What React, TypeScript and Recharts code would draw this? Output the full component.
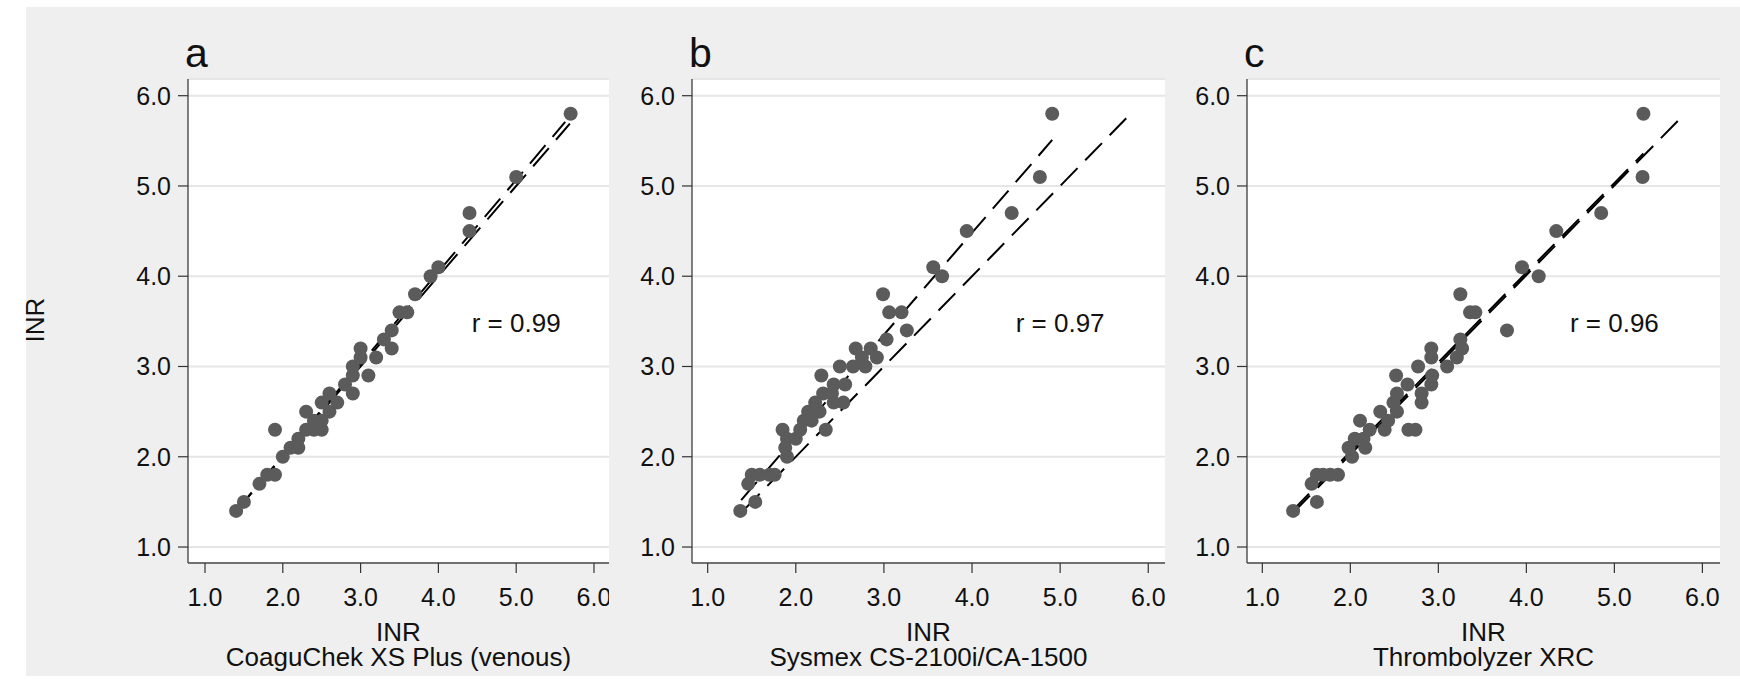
import React from "react";
import {
  ScatterChart,
  Scatter,
  XAxis,
  YAxis,
  CartesianGrid,
  ReferenceLine,
  ReferenceDot,
} from "recharts";

// INR pairs [device x, reference y]
const pointsA: [number, number][] = [
  [1.4, 1.4], [1.5, 1.5], [1.7, 1.7], [1.8, 1.8], [1.9, 1.8], [2.0, 2.0],
  [2.1, 2.1], [2.2, 2.1], [2.2, 2.2], [1.9, 2.3], [2.3, 2.3], [2.4, 2.3],
  [2.5, 2.3], [2.4, 2.4], [2.5, 2.4], [2.3, 2.5], [2.6, 2.5], [2.5, 2.6],
  [2.7, 2.6], [2.6, 2.7], [2.9, 2.7], [2.8, 2.8], [2.9, 2.9], [3.1, 2.9],
  [2.9, 3.0], [3.0, 3.1], [3.2, 3.1], [3.0, 3.2], [3.4, 3.2], [3.3, 3.3],
  [3.4, 3.4], [3.5, 3.6], [3.6, 3.6], [3.7, 3.8], [3.9, 4.0], [4.0, 4.1],
  [4.4, 4.5], [4.4, 4.7], [5.0, 5.1], [5.7, 5.8],
];

const pointsB: [number, number][] = [
  [1.37, 1.4], [1.54, 1.5], [1.46, 1.7], [1.5, 1.8], [1.59, 1.8], [1.7, 1.8],
  [1.76, 1.8], [1.9, 2.0], [1.88, 2.1], [1.9, 2.2], [2.0, 2.2], [1.85, 2.3],
  [2.05, 2.3], [2.34, 2.3], [2.09, 2.4], [2.18, 2.4], [2.14, 2.5], [2.27, 2.5],
  [2.22, 2.6], [2.43, 2.6], [2.54, 2.6], [2.31, 2.7], [2.41, 2.7], [2.43, 2.8],
  [2.56, 2.8], [2.29, 2.9], [2.5, 3.0], [2.65, 3.0], [2.79, 3.0], [2.75, 3.1],
  [2.92, 3.1], [2.68, 3.2], [2.85, 3.2], [3.03, 3.3], [3.26, 3.4], [3.06, 3.6],
  [3.2, 3.6], [2.99, 3.8], [3.66, 4.0], [3.56, 4.1], [3.94, 4.5], [4.45, 4.7],
  [4.77, 5.1], [4.91, 5.8],
];

const pointsC: [number, number][] = [
  [1.35, 1.4], [1.62, 1.5], [1.56, 1.7], [1.62, 1.8], [1.69, 1.8], [1.77, 1.8],
  [1.86, 1.8], [2.02, 2.0], [1.98, 2.1], [2.17, 2.1], [2.05, 2.2], [2.15, 2.2],
  [2.22, 2.3], [2.39, 2.3], [2.66, 2.3], [2.74, 2.3], [2.11, 2.4], [2.43, 2.4],
  [2.34, 2.5], [2.53, 2.5], [2.49, 2.6], [2.81, 2.6], [2.53, 2.7], [2.81, 2.7],
  [2.65, 2.8], [2.92, 2.8], [2.52, 2.9], [2.93, 2.9], [2.77, 3.0], [3.1, 3.0],
  [2.92, 3.1], [3.21, 3.1], [2.92, 3.2], [3.27, 3.2], [3.25, 3.3], [3.78, 3.4],
  [3.36, 3.6], [3.42, 3.6], [3.25, 3.8], [4.14, 4.0], [3.95, 4.1], [4.34, 4.5],
  [4.85, 4.7], [5.32, 5.1], [5.33, 5.8],
];

// dashed lines: line of identity and fitted line, as end points
const identityA: [number, number][] = [[1.4, 1.4], [5.69, 5.69]];
const fitA: [number, number][] = [[1.4, 1.4], [5.63, 5.71]];
const identityB: [number, number][] = [[1.4, 1.4], [5.75, 5.75]];
const fitB: [number, number][] = [[1.38, 1.52], [4.91, 5.51]];
const identityC: [number, number][] = [[1.35, 1.38], [5.75, 5.75]];
const fitC: [number, number][] = [[1.34, 1.4], [5.33, 5.36]];

const ticks = [1, 2, 3, 4, 5, 6];
const rValues = ["r = 0.99", "r = 0.97", "r = 0.96"];
const letters = ["a", "b", "c"];
const devices = ["CoaguChek XS Plus (venous)", "Sysmex CS-2100i/CA-1500", "Thrombolyzer XRC"];
const rLabelAt = { x: 5.0, y: 3.48 };

const FONT = '"Liberation Sans", Arial, Helvetica, sans-serif';
const Y_DOMAIN: [number, number] = [0.823, 6.185];
const PLOT_TOP = 79;
const PLOT_BOTTOM = 563;
const YAXIS_W = 90;
const XAXIS_H = 50;

const panels = [
  { data: pointsA, identity: identityA, fit: fitA, plotLeft: 188, plotRight: 609, xDomain: [0.7815, 6.193] },
  { data: pointsB, identity: identityB, fit: fitB, plotLeft: 692, plotRight: 1165, xDomain: [0.822, 6.19] },
  { data: pointsC, identity: identityC, fit: fitC, plotLeft: 1247, plotRight: 1720, xDomain: [0.826, 6.2] },
];

const fmt = (v: number) => v.toFixed(1);

const Dot = (props: any) => {
  if (props.cx == null || props.cy == null) return <g />;
  return <circle cx={props.cx} cy={props.cy} r={7} fill="#5b5b5b" />;
};

const seg = (pts: [number, number][]) => pts.map(([x, y]) => ({ x, y }));

function Panel({ idx }: { idx: number }) {
  const p = panels[idx];
  const left = p.plotLeft - YAXIS_W;
  const top = 40;
  const width = p.plotRight - left;
  const height = PLOT_BOTTOM - top + XAXIS_H;
  const data = p.data.map(([x, y]) => ({ x, y }));
  const tickStyle = { fontSize: 25, fill: "#111", fontFamily: FONT };

  return (
    <div style={{ position: "absolute", left, top }}>
      <ScatterChart
        width={width}
        height={height}
        margin={{ top: PLOT_TOP - top, right: 0, bottom: 0, left: 0 }}
      >
        <CartesianGrid vertical={false} stroke="#e6e6e6" strokeWidth={2} fill="#ffffff" />
        <XAxis
          type="number"
          dataKey="x"
          domain={p.xDomain as [number, number]}
          allowDataOverflow
          ticks={ticks}
          interval={0}
          tickFormatter={fmt}
          height={XAXIS_H}
          tickSize={10}
          tickMargin={15}
          axisLine={{ stroke: "#4a4a4a", strokeWidth: 1.6 }}
          tickLine={{ stroke: "#333", strokeWidth: 1.2 }}
          tick={tickStyle}
        />
        <YAxis
          type="number"
          dataKey="y"
          domain={Y_DOMAIN}
          allowDataOverflow
          ticks={ticks}
          interval={0}
          tickFormatter={fmt}
          width={YAXIS_W}
          tickSize={10}
          tickMargin={7}
          axisLine={{ stroke: "#4a4a4a", strokeWidth: 1.4 }}
          tickLine={{ stroke: "#333", strokeWidth: 1.2 }}
          tick={tickStyle}
        />
        <Scatter data={data} shape={Dot} isAnimationActive={false} />
        <ReferenceLine
          segment={seg(p.identity)}
          stroke="#000"
          strokeWidth={2}
          strokeDasharray="24 11"
        />
        <ReferenceLine
          segment={seg(p.fit)}
          stroke="#000"
          strokeWidth={2}
          strokeDasharray="24 11"
        />
        <ReferenceDot
          x={rLabelAt.x}
          y={rLabelAt.y}
          r={0}
          fill="none"
          stroke="none"
          label={{ value: rValues[idx], position: "center", fontSize: 26, fill: "#111", fontFamily: FONT }}
        />
      </ScatterChart>
    </div>
  );
}

export default function App() {
  return (
    <div
      style={{
        position: "absolute",
        left: 0,
        top: 0,
        width: 1740,
        height: 679,
        background: "#ffffff",
        overflow: "hidden",
        fontFamily: FONT,
      }}
    >
      <div
        style={{ position: "absolute", left: 26, top: 7, width: 1714, height: 669, background: "#efefef" }}
      />
      {panels.map((_, i) => (
        <Panel key={i} idx={i} />
      ))}
      <svg
        width={1740}
        height={679}
        style={{ position: "absolute", left: 0, top: 0, pointerEvents: "none" }}
      >
        <text
          transform="translate(35,320) rotate(-90)"
          textAnchor="middle"
          dominantBaseline="central"
          fontSize={26}
          fill="#111"
          fontFamily={FONT}
        >
          INR
        </text>
        {panels.map((p, i) => {
          const cx = (p.plotLeft + p.plotRight) / 2;
          return (
            <g key={i} fontFamily={FONT} fill="#111">
              <text x={p.plotLeft - 3} y={67} fontSize={41}>
                {letters[i]}
              </text>
              <text x={cx} y={641} textAnchor="middle" fontSize={26}>
                INR
              </text>
              <text x={cx} y={666} textAnchor="middle" fontSize={26}>
                {devices[i]}
              </text>
            </g>
          );
        })}
      </svg>
    </div>
  );
}
